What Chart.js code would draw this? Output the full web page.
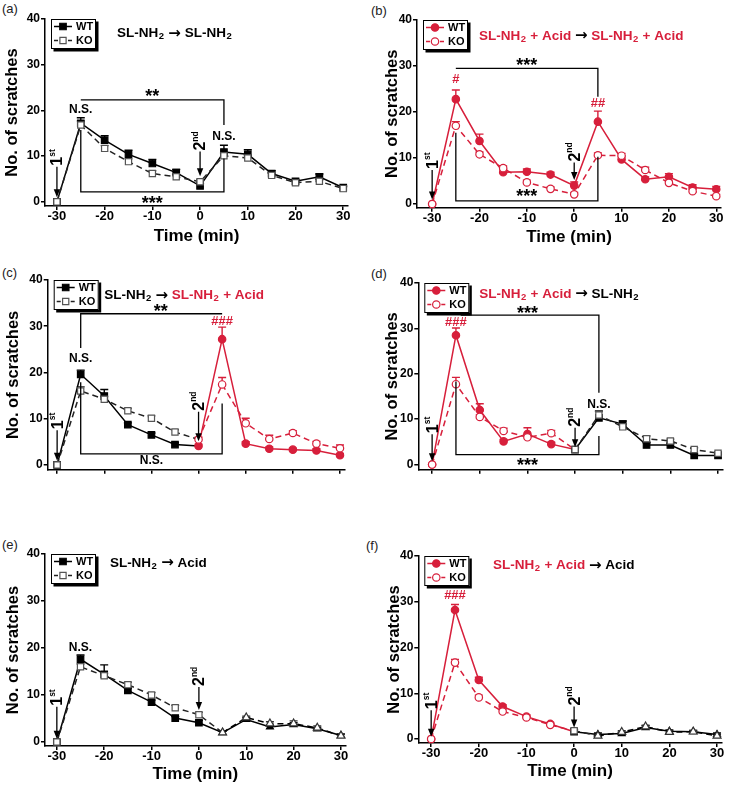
<!DOCTYPE html>
<html>
<head>
<meta charset="utf-8">
<script src="https://cdn.jsdelivr.net/npm/chart.js@4.4.0/dist/chart.umd.min.js"></script>
<style>
body{margin:0;background:#fff;width:729px;height:794px;position:relative;overflow:hidden;font-family:"Liberation Sans",Arial,sans-serif}
canvas{position:absolute}
.lab{position:absolute;font-size:13px;line-height:15px;color:#222}
</style>
</head>
<body>
<div class="lab" style="left:2px;top:1px">(a)</div>
<div class="lab" style="left:371px;top:3px">(b)</div>
<div class="lab" style="left:2px;top:265px">(c)</div>
<div class="lab" style="left:371px;top:266px">(d)</div>
<div class="lab" style="left:2px;top:537px">(e)</div>
<div class="lab" style="left:366px;top:538px">(f)</div>
<script>
// time points and axis ticks
const times = [-30, -25, -20, -15, -10, -5, 0, 5, 10, 15, 20, 25, 30];
const xTicks = [-30, -20, -10, 0, 10, 20, 30];
const yTicks = [0, 10, 20, 30, 40];

// (a) SL-NH2 -> SL-NH2
const wtA    = [0, 17.2, 13.5, 10.4, 8.4, 6.4, 3.5, 10.9, 10.4, 6.2, 4.5, 5.5, 3.1];
const wtErrA = [0, 1.2, 1.0, 0.9, 0.9, 0.7, 0.5, 1.5, 1.0, 0.6, 0.4, 0.6, 0.4];
const koA    = [0, 16.8, 11.7, 8.8, 6.2, 5.5, 4.4, 10.1, 9.6, 5.8, 4.2, 4.5, 2.9];
const koErrA = [0, 0.9, 0.6, 0.6, 0.6, 0.5, 0.5, 0.6, 0.6, 0.5, 0.4, 0.4, 0.4];

// (b) SL-NH2 + Acid -> SL-NH2 + Acid
const wtB    = [0, 22.8, 13.7, 6.9, 7.0, 6.4, 4.0, 17.9, 9.7, 5.4, 5.9, 3.6, 3.2];
const wtErrB = [0, 2.0, 1.5, 0.6, 0.6, 0.5, 0.8, 2.3, 0.7, 0.5, 0.7, 0.6, 0.6];
const koB    = [0, 17.0, 10.8, 7.8, 4.7, 3.3, 2.1, 10.6, 10.5, 7.4, 4.6, 2.8, 1.7];
const koErrB = [0, 0.9, 0.5, 0.5, 0.5, 0.4, 0.4, 0.5, 0.5, 0.6, 0.4, 0.4, 0.4];

// (c) SL-NH2 -> SL-NH2 + Acid
const wtC    = [0, 19.6, 14.9, 8.7, 6.5, 4.4, 4.1, 27.2, 4.6, 3.5, 3.3, 3.1, 2.1];
const wtErrC = [0, 0.9, 1.4, 0.4, 0.4, 0.4, 0.4, 2.6, 0.4, 0.4, 0.3, 0.4, 0.4];
const koC    = [0, 16.0, 14.2, 11.7, 10.1, 7.1, 5.5, 17.4, 9.0, 5.6, 6.9, 4.6, 3.6];
const koErrC = [0, 0.9, 0.6, 0.5, 0.5, 0.5, 0.5, 1.5, 1.1, 0.8, 0.5, 0.5, 0.7];

// (d) SL-NH2 + Acid -> SL-NH2
const wtD    = [0, 28.5, 12.0, 5.1, 6.7, 4.5, 3.3, 10.3, 8.9, 4.3, 4.3, 2.0, 2.0];
const wtErrD = [0, 1.6, 1.4, 0.4, 1.4, 0.4, 0.4, 1.5, 0.7, 0.5, 0.4, 0.3, 0.3];
const koD    = [0, 17.7, 10.5, 7.4, 6.0, 6.9, 3.3, 10.9, 8.3, 5.7, 5.2, 3.3, 2.5];
const koErrD = [0, 1.5, 0.5, 0.6, 0.5, 0.6, 0.4, 0.8, 0.6, 0.6, 0.4, 0.4, 0.3];

// (e) SL-NH2 -> Acid
const wtE    = [0, 17.6, 14.4, 11.0, 8.5, 5.1, 4.1, 2.0, 4.8, 3.2, 3.7, 2.8, 1.4];
const wtErrE = [0, 0.9, 2.0, 0.4, 0.4, 0.3, 0.5, 0.3, 0.4, 0.4, 0.4, 0.3, 0.3];
const koE    = [0, 16.0, 14.1, 12.2, 10.0, 7.3, 5.8, 2.0, 5.2, 3.9, 3.9, 3.0, 1.3];
const koErrE = [0, 0.6, 0.5, 0.5, 0.5, 0.5, 0.5, 0.3, 0.3, 0.4, 0.6, 0.4, 0.3];

// (f) SL-NH2 + Acid -> Acid
const wtF    = [0, 28.2, 12.9, 7.1, 4.9, 3.3, 1.6, 1.0, 1.2, 2.5, 1.7, 1.6, 1.0];
const wtErrF = [0, 1.2, 0.6, 0.4, 0.4, 0.3, 0.4, 0.3, 0.3, 0.4, 0.3, 0.3, 0.3];
const koF    = [0, 16.7, 9.1, 6.0, 4.7, 3.1, 1.8, 0.7, 1.5, 2.7, 1.5, 1.6, 0.7];
const koErrF = [0, 0.7, 0.5, 0.4, 0.3, 0.3, 0.3, 0.2, 0.3, 0.3, 0.3, 0.3, 0.3];

const FONT = '"Liberation Sans", Arial, Helvetica, sans-serif';
const RED = '#d71f3b';
const K = '#000';
Chart.defaults.font.family = FONT;

// marker look per treatment: S = SL-NH2, R = SL-NH2 + Acid, T = Acid
const looks = {
  S: {wt: {shape: 'rect', r: 4.6, fill: '#000', edge: '#000', line: '#000'},
      ko: {shape: 'rect', r: 4.4, fill: '#fff', edge: '#555', line: '#222'}},
  R: {wt: {shape: 'circle', r: 3.7, fill: RED, edge: RED, line: RED},
      ko: {shape: 'circle', r: 3.7, fill: '#fff', edge: RED, line: RED}},
  T: {wt: {shape: 'triangle', r: 4, fill: '#000', edge: '#000', line: '#000'},
      ko: {shape: 'triangle', r: 4.6, fill: '#fff', edge: '#333', line: '#000'}}
};
const rep = (k, n) => Array(n).fill(k);

const panels = [
  {canvas: {l: 0, t: 0, w: 364, h: 247}, area: {l: 45, r: 348, t: 19, b: 206}, xr: [-32.5, 31], yr: [-0.9, 40], yTitleX: 12, showX: true,
   wt: wtA, wtErr: wtErrA, ko: koA, koErr: koErrA, marks: rep('S', 13),
   head: {x: -17.4, y: 36.9, parts: [['SL-NH_2 → SL-NH_2', K]]},
   notes: [
     {k: 'line', pts: [[-25, 22.3], [5, 22.3], [5, 16.8]]},
     {k: 'text', x: -10, y: 23.7, t: '**'},
     {k: 'text', x: -25, y: 20.2, t: 'N.S.'},
     {k: 'text', x: 5, y: 14.2, t: 'N.S.'},
     {k: 'line', pts: [[-25, 15.7], [-25, 2.2], [5, 2.2], [5, 9.5]]},
     {k: 'text', x: -10, y: 0.5, t: '***'},
     {k: 'arrow', x: -30, from: 7.7, to: 1.0, n: '1', s: 'st'},
     {k: 'arrow', x: 0, from: 11, to: 5.6, n: '2', s: 'nd'}
   ]},
  {canvas: {l: 364, t: 0, w: 365, h: 248}, area: {l: 417, r: 721, t: 20, b: 207.7}, xr: [-33.2, 31], yr: [-0.8, 40], yTitleX: 392.3, showX: true,
   wt: wtB, wtErr: wtErrB, ko: koB, koErr: koErrB, marks: rep('R', 13),
   head: {x: -20.1, y: 36.5, parts: [['SL-NH_2 + Acid ', RED], ['→ ', K], ['SL-NH_2 + Acid', RED]]},
   notes: [
     {k: 'text', x: -25, y: 27, t: '#', c: RED},
     {k: 'text', x: 5, y: 21.9, t: '##', c: RED},
     {k: 'line', pts: [[-25, 29.5], [5, 29.5], [5, 23.3]]},
     {k: 'text', x: -10, y: 30.9, t: '***'},
     {k: 'line', pts: [[-25, 15.5], [-25, 0.7], [5, 0.7], [5, 10.3]]},
     {k: 'text', x: -10, y: 2.3, t: '***'},
     {k: 'arrow', x: -30, from: 7.4, to: 1.0, n: '1', s: 'st'},
     {k: 'arrow', x: 0, from: 9.0, to: 5.2, n: '2', s: 'nd'}
   ]},
  {canvas: {l: 0, t: 262, w: 364, h: 216}, area: {l: 47.7, r: 344.7, t: 280, b: 473}, xr: [-32, 31], yr: [-1.06, 40], yTitleX: 13.3, showX: false,
   wt: wtC, wtErr: wtErrC, ko: koC, koErr: koErrC, marks: rep('S', 6).concat(rep('R', 7)),
   head: {x: -20.0, y: 36.6, parts: [['SL-NH_2 → ', K], ['SL-NH_2 + Acid', RED]]},
   notes: [
     {k: 'line', pts: [[-25, 25.3], [-25, 32.7], [5, 32.7]]},
     {k: 'text', x: -8, y: 34, t: '**'},
     {k: 'text', x: 5, y: 31.0, t: '###', c: RED},
     {k: 'text', x: -25, y: 22.9, t: 'N.S.'},
     {k: 'line', pts: [[-25, 17.9], [-25, 2.4], [5, 2.4], [5, 13.3]]},
     {k: 'text', x: -10, y: 0.85, t: 'N.S.'},
     {k: 'arrow', x: -30, from: 7.5, to: 0.9, n: '1', s: 'st'},
     {k: 'arrow', x: 0, from: 11.5, to: 5.1, n: '2', s: 'nd'}
   ]},
  {canvas: {l: 364, t: 262, w: 365, h: 216}, area: {l: 418.3, r: 722.8, t: 283, b: 471.3}, xr: [-32.9, 31], yr: [-1.16, 40], yTitleX: 392, showX: false,
   wt: wtD, wtErr: wtErrD, ko: koD, koErr: koErrD, marks: rep('R', 6).concat(rep('S', 7)),
   head: {x: -20.1, y: 37.6, parts: [['SL-NH_2 + Acid ', RED], ['→ SL-NH_2', K]]},
   notes: [
     {k: 'text', x: -25, y: 31.4, t: '###', c: RED},
     {k: 'line', pts: [[-24, 32.9], [5, 32.9], [5, 15.8]]},
     {k: 'text', x: -10, y: 34.1, t: '***'},
     {k: 'line', pts: [[-25, 18.3], [-25, 2.2], [5, 2.2], [5, 6.3]]},
     {k: 'text', x: -10, y: 0.5, t: '***'},
     {k: 'text', x: 5, y: 13.2, t: 'N.S.'},
     {k: 'arrow', x: -30, from: 6.7, to: 0.7, n: '1', s: 'st'},
     {k: 'arrow', x: 0, from: 8.1, to: 3.8, n: '2', s: 'nd'}
   ]},
  {canvas: {l: 0, t: 525, w: 364, h: 260}, area: {l: 45, r: 345.7, t: 554, b: 746}, xr: [-32.5, 31], yr: [-0.85, 40], yTitleX: 13, showX: true,
   wt: wtE, wtErr: wtErrE, ko: koE, koErr: koErrE, marks: rep('S', 7).concat(rep('T', 6)),
   head: {x: -18.8, y: 38.1, parts: [['SL-NH_2 → Acid', K]]},
   notes: [
     {k: 'text', x: -25, y: 20.1, t: 'N.S.'},
     {k: 'arrow', x: -30, from: 7.5, to: 0.7, n: '1', s: 'st'},
     {k: 'arrow', x: 0, from: 11.7, to: 6.8, n: '2', s: 'nd'}
   ]},
  {canvas: {l: 364, t: 525, w: 365, h: 257}, area: {l: 418.3, r: 721.8, t: 556, b: 743}, xr: [-32.7, 31], yr: [-0.87, 40], yTitleX: 394, showX: true,
   wt: wtF, wtErr: wtErrF, ko: koF, koErr: koErrF, marks: rep('R', 6).concat(['S'], rep('T', 6)),
   head: {x: -17, y: 38, parts: [['SL-NH_2 + Acid ', RED], ['→ Acid', K]]},
   notes: [
     {k: 'text', x: -25, y: 31.4, t: '###', c: RED},
     {k: 'arrow', x: -30, from: 6.3, to: 0.5, n: '1', s: 'st'},
     {k: 'arrow', x: 0, from: 7.1, to: 2.5, n: '2', s: 'nd'}
   ]}
];

function series(p, key) {
  const vals = key === 'wt' ? p.wt : p.ko;
  const L = p.marks.map(m => looks[m][key]);
  return {
    label: key === 'wt' ? 'WT' : 'KO',
    data: times.map((t, i) => ({x: t, y: vals[i]})),
    borderColor: L[0].line,
    borderWidth: 1.5,
    borderDash: key === 'ko' ? [6, 4] : [],
    segment: {borderColor: c => L[c.p0DataIndex].line},
    pointStyle: L.map(s => s.shape),
    pointRadius: L.map(s => s.r),
    pointBackgroundColor: L.map(s => s.fill),
    pointBorderColor: L.map(s => s.edge),
    pointBorderWidth: 1.2,
    tension: 0,
    clip: false,
    order: key === 'ko' ? 0 : 1
  };
}

// title text: "_2" is a subscript 2, the arrow uses a heavier font
function drawRich(ctx, parts, x, y) {
  ctx.textBaseline = 'middle';
  ctx.textAlign = 'left';
  for (const [str, col] of parts) {
    ctx.fillStyle = col;
    str.split(/(_2|→)/).forEach(piece => {
      if (!piece) return;
      if (piece === '_2') {
        ctx.font = 'bold 9.5px ' + FONT;
        ctx.fillText('2', x + 0.5, y + 3);
        x += ctx.measureText('2').width + 1;
      } else if (piece === '→') {
        ctx.fillStyle = K;
        ctx.font = 'bold 15px "DejaVu Sans", sans-serif';
        ctx.fillText(piece, x, y + 0.5);
        x += ctx.measureText(piece).width;
        ctx.fillStyle = col;
      } else {
        ctx.font = 'bold 13.5px ' + FONT;
        ctx.fillText(piece, x, y);
        x += ctx.measureText(piece).width;
      }
    });
  }
}

function makeDecor(p) {
  return {
    id: 'decor',
    beforeDatasetsDraw(chart) {
      // upward error bars
      const ctx = chart.ctx, ys = chart.scales.y;
      ctx.save();
      ctx.lineWidth = 1.4;
      chart.data.datasets.forEach((ds, di) => {
        const key = di === 0 ? 'wt' : 'ko';
        const errs = key === 'wt' ? p.wtErr : p.koErr;
        const vals = key === 'wt' ? p.wt : p.ko;
        chart.getDatasetMeta(di).data.forEach((el, i) => {
          if (!errs[i]) return;
          const top = ys.getPixelForValue(vals[i] + errs[i]);
          ctx.strokeStyle = looks[p.marks[i]][key].edge;
          ctx.beginPath();
          ctx.moveTo(el.x, el.y);
          ctx.lineTo(el.x, top);
          ctx.moveTo(el.x - 4, top);
          ctx.lineTo(el.x + 4, top);
          ctx.stroke();
        });
      });
      ctx.restore();
    },
    afterDatasetsDraw(chart) {
      const ctx = chart.ctx, xs = chart.scales.x, ys = chart.scales.y;
      const X = v => xs.getPixelForValue(v), Y = v => ys.getPixelForValue(v);
      ctx.save();
      for (const n of p.notes) {
        if (n.k === 'line') {
          ctx.strokeStyle = '#000';
          ctx.lineWidth = 1.3;
          ctx.beginPath();
          n.pts.forEach((q, i) => i ? ctx.lineTo(X(q[0]), Y(q[1])) : ctx.moveTo(X(q[0]), Y(q[1])));
          ctx.stroke();
        } else if (n.k === 'text') {
          const star = /^\*+$/.test(n.t);
          const size = star ? 18 : (n.t[0] === '#' ? 13 : 12);
          ctx.font = 'bold ' + size + 'px ' + FONT;
          ctx.fillStyle = n.c || '#000';
          ctx.textAlign = 'center';
          ctx.textBaseline = 'middle';
          ctx.fillText(n.t, X(n.x), Y(n.y) + (star ? size * 0.22 : 0));
        } else if (n.k === 'arrow') {
          const x = X(n.x), y0 = Y(n.from), y1 = Y(n.to);
          ctx.save();
          ctx.strokeStyle = ctx.fillStyle = '#000';
          ctx.lineWidth = 1.3;
          ctx.beginPath();
          ctx.moveTo(x, y0);
          ctx.lineTo(x, y1 - 6);
          ctx.stroke();
          ctx.beginPath();
          ctx.moveTo(x, y1);
          ctx.lineTo(x - 3.2, y1 - 8);
          ctx.lineTo(x + 3.2, y1 - 8);
          ctx.closePath();
          ctx.fill();
          ctx.translate(x, y0 - 1);
          ctx.rotate(-Math.PI / 2);
          ctx.textAlign = 'left';
          ctx.textBaseline = 'middle';
          ctx.font = 'bold 16px ' + FONT;
          ctx.fillText(n.n, 0, 1);
          const w = ctx.measureText(n.n).width;
          ctx.font = 'bold 8.5px ' + FONT;
          ctx.fillText(n.s, w, -4.5);
          ctx.restore();
        }
      }
      drawRich(ctx, p.head.parts, X(p.head.x), Y(p.head.y));

      // legend box with drop shadow
      const a = chart.chartArea;
      const L = a.left + 6, T = a.top, W = 45, H = 30;
      ctx.fillStyle = '#000';
      ctx.fillRect(L + 2.5, T + 2.5, W, H);
      ctx.fillStyle = '#fff';
      ctx.fillRect(L, T, W, H);
      ctx.strokeStyle = '#000';
      ctx.lineWidth = 1;
      ctx.strokeRect(L + 0.5, T + 0.5, W - 1, H - 1);
      [['wt', 'WT', 7.5], ['ko', 'KO', 21.5]].forEach(([key, name, dy]) => {
        const s = looks[p.marks[0]][key];
        const y = T + dy;
        ctx.strokeStyle = s.line;
        ctx.lineWidth = 1.5;
        ctx.setLineDash(key === 'ko' ? [4, 3] : []);
        ctx.beginPath();
        ctx.moveTo(L + 3, y);
        ctx.lineTo(L + 21, y);
        ctx.stroke();
        ctx.setLineDash([]);
        ctx.fillStyle = s.fill;
        ctx.strokeStyle = s.edge;
        ctx.lineWidth = 1.2;
        Chart.helpers.drawPoint(ctx, {pointStyle: s.shape, radius: s.r, borderWidth: 1.2, rotation: 0}, L + 12, y);
        ctx.fillStyle = '#000';
        ctx.font = 'bold 11px ' + FONT;
        ctx.textAlign = 'left';
        ctx.textBaseline = 'middle';
        ctx.fillText(name, L + 25, y + 0.5);
      });
      ctx.restore();
    }
  };
}

panels.forEach(p => {
  const cv = document.createElement('canvas');
  cv.width = p.canvas.w;
  cv.height = p.canvas.h;
  cv.style.left = p.canvas.l + 'px';
  cv.style.top = p.canvas.t + 'px';
  document.body.appendChild(cv);
  const grid = {drawOnChartArea: false, color: '#000', lineWidth: 1.5, tickLength: 4};
  const border = {color: '#000', width: 1.5};
  new Chart(cv, {
    type: 'line',
    data: {datasets: [series(p, 'wt'), series(p, 'ko')]},
    options: {
      responsive: false,
      animation: false,
      layout: {padding: {left: 0, bottom: 0, top: p.area.t - p.canvas.t, right: p.canvas.l + p.canvas.w - p.area.r}},
      plugins: {legend: {display: false}, tooltip: {enabled: false}},
      scales: {
        x: {
          type: 'linear', min: p.xr[0], max: p.xr[1],
          afterBuildTicks: s => { s.ticks = xTicks.map(v => ({value: v})); },
          afterFit: s => { s.height = p.canvas.t + p.canvas.h - p.area.b; },
          grid: grid, border: border,
          ticks: {display: p.showX, color: '#000', padding: -1, maxRotation: 0, font: {size: 13, weight: 'bold'}},
          title: {display: p.showX, text: 'Time (min)', color: '#000', padding: {top: 0, bottom: 0}, font: {size: 17, weight: 'bold'}}
        },
        y: {
          type: 'linear', min: p.yr[0], max: p.yr[1],
          afterBuildTicks: s => { s.ticks = yTicks.map(v => ({value: v})); },
          afterFit: s => { s.width = p.area.l - p.canvas.l; },
          grid: grid, border: border,
          ticks: {color: '#000', padding: 1, font: {size: 12, weight: 'bold'}},
          title: {display: true, text: 'No. of scratches', color: '#000', padding: {top: p.yTitleX - p.canvas.l - 9.9, bottom: 0}, font: {size: 16.5, weight: 'bold'}}
        }
      }
    },
    plugins: [makeDecor(p)]
  });
});
</script>
</body>
</html>
